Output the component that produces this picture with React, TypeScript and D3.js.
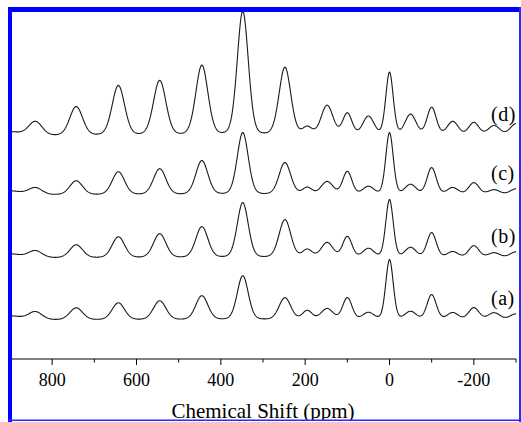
import React from 'react';
import * as d3 from 'd3';

const W = 521;
const H = 422;

// Peak positions (ppm) of the spinning sideband manifold
const peakPositions = [900, 840, 743, 643, 545, 445, 348, 248, 195, 148, 100, 50, 0, -50, -100, -150, -200, -248, -300];
// Full width at half maximum (ppm)
const peakWidths = [64, 38, 36, 35, 35, 34, 31, 33, 27, 33, 26, 31, 21, 31, 26, 31, 29, 33, 33];

// Peak heights (arbitrary intensity units) for each trace
const heightsA = [4, 8, 12, 17, 19, 24, 44, 22, 9, 11, 22, 7, 60, 8, 25, 7, 12, 7, 6];
const heightsB = [4, 7, 13, 21, 24, 31, 55, 38, 8, 15, 21, 9, 58, 10, 25, 6, 12, 5, 6];
const heightsC = [4, 7, 14, 23, 26, 34, 62, 32, 7, 13, 23, 8, 62, 10, 27, 7, 12, 5, 6];
const heightsD = [4, 14, 29, 50, 55, 70, 124, 68, 8, 30, 22, 19, 63, 21, 28, 14, 13, 10, 12];

const traceLabels = ['(a)', '(b)', '(c)', '(d)'];
const traceOffsets = [0, 62, 125, 184];
const traceHeights = [heightsA, heightsB, heightsC, heightsD];

const majorTicks = [800, 600, 400, 200, 0, -200];
const minorTicks = [700, 500, 300, 100, -100, -300];
const xTitle = 'Chemical Shift (ppm)';

function pseudoVoigt(ppm: number, pos: number, fwhm: number, h: number) {
  const eta = 0.15;
  const s = fwhm / 2.3548;
  const g = Math.exp(-((ppm - pos) * (ppm - pos)) / (2 * s * s));
  const hw = fwhm / 2;
  const l = 1 / (1 + ((ppm - pos) / hw) * ((ppm - pos) / hw));
  return h * ((1 - eta) * g + eta * l);
}

export default function App() {
  const x = d3.scaleLinear().domain([900, -300]).range([10, 516]);
  const y = d3.scaleLinear().domain([-39, 308]).range([359, 12]);
  const grid = d3.range(900, -300.01, -1);

  const line = d3
    .line<[number, number]>()
    .x((d) => x(d[0]))
    .y((d) => y(d[1]));

  const traces = traceHeights.map((hs, ti) => {
    const pts: [number, number][] = grid.map((p) => {
      let v = traceOffsets[ti];
      for (let i = 0; i < peakPositions.length; i++) {
        v += pseudoVoigt(p, peakPositions[i], peakWidths[i], hs[i]);
      }
      return [p, v];
    });
    return line(pts) as string;
  });

  const axisY = y(-39);
  const serif = '"Liberation Serif", "Times New Roman", serif';

  return (
    <svg
      width={W}
      height={H}
      style={{ position: 'absolute', left: 0, top: 0, background: '#fff' }}
      xmlns="http://www.w3.org/2000/svg"
    >
      <defs>
        <clipPath id="inner">
          <rect x={12} y={12} width={507} height={408} />
        </clipPath>
      </defs>
      <rect x={0} y={0} width={W} height={H} fill="#fff" />
      <g clipPath="url(#inner)">
        {traces.map((d, i) => (
          <path key={i} d={d} fill="none" stroke="#1a1a1a" strokeWidth={1.1} />
        ))}
        {traceLabels.map((t, i) => (
          <text
            key={t}
            x={491}
            y={y(traceOffsets[i] + 15)}
            fontFamily={serif}
            fontSize={20}
            letterSpacing={0.5}
            fill="#000"
          >
            {t}
          </text>
        ))}
        <line x1={x(900)} x2={x(-300)} y1={axisY} y2={axisY} stroke="#000" strokeWidth={1} />
        {majorTicks.map((t) => (
          <g key={t}>
            <line x1={x(t)} x2={x(t)} y1={axisY} y2={axisY + 6} stroke="#000" strokeWidth={1} />
            <text
              x={x(t)}
              y={386}
              textAnchor="middle"
              fontFamily={serif}
              fontSize={18}
              fill="#000"
            >
              {t}
            </text>
          </g>
        ))}
        {minorTicks.map((t) => (
          <line key={t} x1={x(t)} x2={x(t)} y1={axisY} y2={axisY + 3.5} stroke="#000" strokeWidth={1} />
        ))}
        <text
          x={(x(900) + x(-300)) / 2}
          y={418}
          textAnchor="middle"
          fontFamily={serif}
          fontSize={21}
          fill="#000"
        >
          {xTitle}
        </text>
      </g>
      {/* blue frame */}
      <rect x={8} y={7} width={513} height={5} fill="#0000ff" />
      <rect x={8} y={7} width={4} height={415} fill="#0000ff" />
      <rect x={519} y={7} width={2} height={415} fill="#2a2aff" />
      <rect x={8} y={419.5} width={513} height={1.5} fill="#2a2aff" />
    </svg>
  );
}
